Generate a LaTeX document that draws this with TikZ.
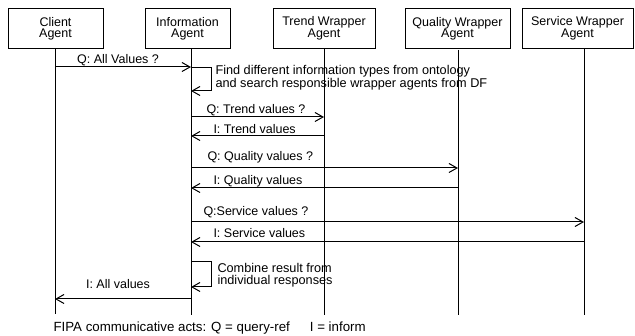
\documentclass[tikz,border=0pt]{standalone}
\usepackage{fontspec}
\setmainfont{Liberation Sans}
\usetikzlibrary{arrows.meta}
\begin{document}
\begin{tikzpicture}[x=1pt,y=-1pt,line width=1pt,
  agent/.style={draw,rectangle,align=center,inner sep=0pt,minimum height=40pt,font=\fontsize{12.5}{11.5}\selectfont},
  msg/.style={-{Straight Barb[length=8pt,width=9pt,line width=1pt]}},
  lbl/.style={inner sep=0pt,font=\fontsize{12.5}{13}\selectfont},
  note/.style={inner sep=0pt,align=left,font=\fontsize{12.7}{11.5}\selectfont},
  foot/.style={inner sep=0pt,font=\fontsize{13.3}{14}\selectfont}]
\useasboundingbox (0,0) rectangle (635,336);
% agents
\node[agent,minimum width=95pt]  (cl) at (55.5,29)  {Client\\Agent};
\node[agent,minimum width=85pt]  (in) at (187.5,29) {Information\\Agent};
\node[agent,minimum width=102pt] (tr) at (324,28.5) {Trend Wrapper\\Agent};
\node[agent,minimum width=105pt] (qu) at (457.5,29) {Quality Wrapper\\Agent};
\node[agent,minimum width=111pt] (se) at (577.5,28.5) {Service Wrapper\\Agent};
% lifelines
\coordinate (L1) at (55,49);   \coordinate (B1) at (55,314);
\coordinate (L2) at (191,49);  \coordinate (B2) at (191,315);
\coordinate (L3) at (324,49);  \coordinate (B3) at (324,315);
\coordinate (L4) at (458,50);  \coordinate (B4) at (458,315);
\coordinate (L5) at (584,49);  \coordinate (B5) at (584,315);
\draw (L1) -- (B1);
\draw (L2) -- (B2);
\draw (L3) -- (B3);
\draw (L4) -- (B4);
\draw (L5) -- (B5);
% messages
\draw[msg] (L1|-0,67) -- (L2|-0,67);
\node[lbl] (m1) at (118,60) {Q: All Values ?};
\draw[msg] (L2|-0,68) -- (211,68) -- (211,91) -- (L2|-0,91);
\node[note,anchor=west] (n1) at (215,78) {Find different information types from ontology\\and search responsible wrapper agents from DF};
\draw[msg] (L2|-0,117) -- (L3|-0,117);
\node[lbl,anchor=west] (m2) at (206,110) {Q: Trend values ?};
\draw[msg] (L3|-0,136) -- (L2|-0,136);
\node[lbl,anchor=west] (m3) at (213,129) {I: Trend values};
\draw[msg] (L2|-0,168) -- (L4|-0,168);
\node[lbl,anchor=west] (m4) at (207,157) {Q: Quality values ?};
\draw[msg] (L4|-0,188) -- (L2|-0,188);
\node[lbl,anchor=west] (m5) at (213,181) {I: Quality values};
\draw[msg] (L2|-0,222) -- (L5|-0,222);
\node[lbl,anchor=west] (m6) at (203,212) {Q:Service values ?};
\draw[msg] (L5|-0,242) -- (L2|-0,242);
\node[lbl,anchor=west] (m7) at (213,233) {I: Service values};
\draw[msg] (L2|-0,262) -- (211,262) -- (211,287) -- (L2|-0,287);
\node[note,anchor=west] (n2) at (217,275) {Combine result from\\individual responses};
\draw[msg] (L2|-0,299) -- (L1|-0,299);
\node[lbl] (m8) at (118,284) {I: All values};
% footer
\node[foot,anchor=west] (ft) at (53,328) {FIPA communicative acts: Q = query-ref\hspace{20pt}I = inform};
\end{tikzpicture}
\end{document}
